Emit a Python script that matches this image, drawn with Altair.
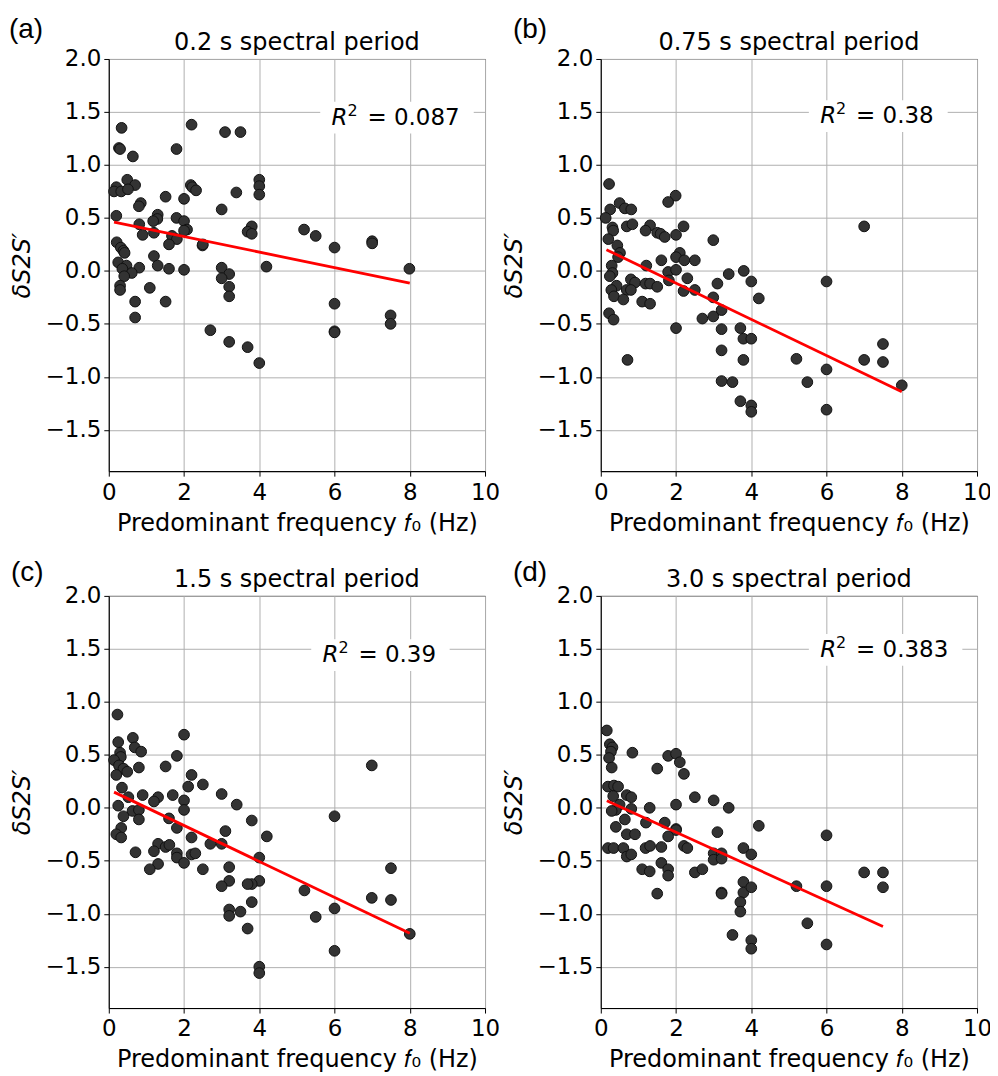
import altair as alt
import pandas as pd

# ---------------- data ----------------
a_f0 = [0.34, 2.20, 3.09, 3.50, 0.27, 0.30, 1.80, 0.64, 0.49, 0.70, 0.20, 0.14, 0.33, 0.51,
        4.00, 4.00, 4.00, 2.18, 2.22, 2.32, 3.39, 1.51, 2.00, 0.85, 0.80, 3.00, 0.20, 1.30,
        1.29, 1.18, 1.80, 2.00, 2.08, 2.00, 0.81, 1.20, 0.90, 5.19, 5.50, 3.80, 3.69, 3.80,
        1.68, 1.81, 1.60, 2.49, 2.50, 6.00, 7.00, 7.00, 0.21, 0.32, 0.39, 0.42, 1.20, 0.25,
        0.47, 0.36, 0.81, 1.30, 1.60, 2.00, 4.19, 3.00, 3.20, 3.00, 7.99, 0.61, 0.41, 0.30,
        0.30, 1.09, 3.20, 3.20, 0.70, 1.51, 0.70, 6.00, 7.49, 7.49, 6.00, 6.00, 2.70, 3.20,
        3.69, 4.00]
a_ds2s = [1.35, 1.38, 1.31, 1.31, 1.16, 1.15, 1.15, 1.08, 0.86, 0.81, 0.79, 0.75, 0.75, 0.77,
          0.86, 0.80, 0.72, 0.81, 0.79, 0.76, 0.74, 0.70, 0.68, 0.64, 0.61, 0.58, 0.52, 0.53,
          0.49, 0.47, 0.50, 0.47, 0.39, 0.38, 0.44, 0.36, 0.34, 0.39, 0.33, 0.42, 0.37, 0.35,
          0.33, 0.30, 0.25, 0.24, 0.25, 0.22, 0.28, 0.26, 0.27, 0.22, 0.19, 0.17, 0.14, 0.08,
          0.05, 0.02, 0.03, 0.05, 0.02, 0.01, 0.04, 0.03, -0.03, -0.07, 0.02, -0.02, -0.05, -0.14,
          -0.18, -0.16, -0.15, -0.24, -0.29, -0.29, -0.44, -0.31, -0.42, -0.50, -0.57, -0.58, -0.56, -0.67,
          -0.72, -0.87]

b_f0 = [0.22, 1.99, 1.79, 0.50, 0.64, 0.81, 0.25, 0.13, 0.31, 0.33, 0.69, 0.84, 1.31, 1.19,
        1.50, 1.59, 1.70, 2.00, 2.20, 7.00, 0.20, 2.99, 0.44, 0.51, 0.46, 2.10, 2.00, 2.22,
        1.61, 2.50, 1.21, 0.29, 0.31, 0.24, 1.79, 2.00, 1.81, 3.80, 3.40, 4.00, 6.00, 3.10,
        2.30, 0.80, 0.91, 1.19, 1.31, 1.50, 0.42, 0.28, 0.35, 0.69, 0.80, 2.20, 2.50, 0.60,
        2.99, 4.20, 1.10, 1.31, 3.21, 0.22, 0.34, 2.70, 2.99, 2.00, 3.21, 3.71, 3.79, 4.00,
        3.21, 0.71, 3.79, 5.20, 7.00, 7.50, 7.50, 6.00, 8.00, 3.21, 3.50, 5.49, 3.71, 4.00,
        4.00, 6.00]
b_ds2s = [0.82, 0.71, 0.65, 0.64, 0.59, 0.58, 0.58, 0.50, 0.41, 0.38, 0.42, 0.44, 0.43, 0.38,
          0.36, 0.35, 0.32, 0.34, 0.42, 0.42, 0.30, 0.29, 0.24, 0.17, 0.13, 0.17, 0.13, 0.10,
          0.10, 0.10, 0.05, 0.05, -0.02, -0.05, -0.01, 0.01, -0.09, 0.00, -0.03, -0.10, -0.10, -0.12,
          -0.07, -0.08, -0.11, -0.12, -0.12, -0.15, -0.14, -0.18, -0.24, -0.18, -0.18, -0.19, -0.18, -0.27,
          -0.25, -0.26, -0.29, -0.31, -0.37, -0.40, -0.46, -0.45, -0.43, -0.54, -0.55, -0.54, -0.64, -0.64,
          -0.75, -0.84, -0.84, -0.83, -0.84, -0.69, -0.86, -0.93, -1.08, -1.04, -1.05, -1.05, -1.23, -1.27,
          -1.33, -1.31]

c_f0 = [0.23, 2.00, 0.25, 0.64, 0.69, 0.86, 0.30, 0.32, 1.81, 0.14, 0.27, 0.39, 0.49, 0.80,
        1.51, 0.20, 2.20, 2.50, 2.11, 0.35, 6.99, 0.90, 1.31, 1.20, 1.70, 2.00, 2.00, 3.00,
        3.40, 0.52, 0.25, 0.63, 0.80, 0.39, 0.80, 1.60, 6.00, 3.80, 1.81, 0.33, 0.20, 0.33,
        3.10, 2.20, 4.20, 1.31, 1.51, 1.61, 2.70, 3.00, 0.71, 1.20, 1.81, 1.81, 2.20, 2.30,
        2.00, 1.31, 1.09, 2.50, 4.00, 3.20, 4.00, 3.80, 3.69, 3.20, 3.00, 5.20, 7.50, 6.99,
        7.50, 3.80, 6.00, 3.20, 3.20, 3.50, 5.50, 3.69, 8.00, 6.00, 4.00, 4.00]
c_ds2s = [0.88, 0.69, 0.62, 0.66, 0.57, 0.53, 0.52, 0.48, 0.49, 0.45, 0.40, 0.37, 0.34, 0.38,
          0.39, 0.31, 0.31, 0.22, 0.20, 0.19, 0.40, 0.12, 0.10, 0.06, 0.12, 0.07, -0.02, 0.13,
          0.03, 0.10, 0.02, -0.03, -0.02, -0.08, -0.11, -0.10, -0.08, -0.12, -0.19, -0.19, -0.25, -0.28,
          -0.22, -0.28, -0.27, -0.34, -0.37, -0.35, -0.34, -0.34, -0.42, -0.41, -0.43, -0.47, -0.44, -0.43,
          -0.52, -0.53, -0.58, -0.58, -0.47, -0.56, -0.69, -0.72, -0.72, -0.69, -0.74, -0.78, -0.57, -0.85,
          -0.87, -0.89, -0.95, -0.96, -1.02, -0.98, -1.03, -1.14, -1.19, -1.35, -1.50, -1.56]

d_f0 = [0.16, 0.24, 0.31, 0.27, 0.22, 0.29, 0.84, 1.79, 2.00, 2.10, 1.50, 2.21, 0.19, 0.35,
        0.46, 0.33, 0.69, 0.81, 2.50, 3.00, 3.40, 2.00, 0.50, 0.40, 0.29, 0.81, 1.30, 0.64,
        1.20, 1.70, 2.00, 2.00, 0.40, 4.20, 0.69, 0.91, 1.79, 3.10, 6.00, 0.19, 0.34, 0.60,
        1.19, 1.31, 1.61, 2.21, 2.30, 0.69, 0.81, 3.00, 3.00, 3.21, 3.21, 3.79, 4.00, 1.61,
        1.10, 1.30, 1.79, 1.79, 2.50, 2.70, 3.79, 3.79, 4.00, 5.20, 6.00, 7.00, 7.50, 7.50,
        1.50, 3.21, 3.21, 3.71, 3.71, 5.49, 3.50, 4.00, 4.00, 6.00]
d_ds2s = [0.73, 0.60, 0.57, 0.53, 0.47, 0.38, 0.52, 0.49, 0.51, 0.43, 0.37, 0.32, 0.20, 0.21,
          0.20, 0.11, 0.12, 0.10, 0.10, 0.07, 0.00, 0.03, 0.03, -0.02, -0.03, -0.01, 0.00, -0.11,
          -0.14, -0.14, -0.20, -0.21, -0.18, -0.17, -0.25, -0.25, -0.27, -0.23, -0.26, -0.38, -0.38, -0.38,
          -0.38, -0.36, -0.37, -0.36, -0.38, -0.46, -0.44, -0.43, -0.49, -0.43, -0.48, -0.38, -0.44, -0.52,
          -0.58, -0.60, -0.58, -0.64, -0.61, -0.58, -0.70, -0.80, -0.75, -0.74, -0.74, -0.61, -0.61, -0.75,
          -0.81, -0.80, -0.81, -0.89, -0.98, -1.09, -1.20, -1.25, -1.33, -1.29]

# fitted regression line end points
fit_f0 = {"a": [0.14, 8.0], "b": [0.15, 8.0], "c": [0.14, 8.0], "d": [0.16, 7.5]}
fit_ds2s = {"a": [0.46, -0.116], "b": [0.20, -1.14], "c": [0.148, -1.185], "d": [0.066, -1.12]}

panel_letters = ["(a)", "(b)", "(c)", "(d)"]
panel_titles = ["0.2 s spectral period", "0.75 s spectral period",
                "1.5 s spectral period", "3.0 s spectral period"]
r2_values = ["0.087", "0.38", "0.39", "0.383"]
r2_f0 = [5.92, 5.83, 5.68, 5.83]
r2_ds2s = [1.446, 1.46, 1.44, 1.49]
r2_box_end = [9.70, 9.22, 9.06, 9.61]

x_ticks = [0, 2, 4, 6, 8, 10]
y_ticks = [-1.5, -1.0, -0.5, 0.0, 0.5, 1.0, 1.5, 2.0]

# ---------------- styling ----------------
FONT = "DejaVu Sans"
X_TITLE = "Predominant frequency 𝑓₀ (Hz)"
Y_TITLE = "δS2S′"
W, H = 377, 413

xscale = alt.Scale(domain=[0, 10], nice=False, zero=False)
yscale = alt.Scale(domain=[-1.89, 2.0], nice=False, zero=False)

xaxis = alt.Axis(values=x_ticks, format="d", labelFont=FONT, labelFontSize=23,
                 titleFont=FONT, titleFontSize=24, titleFontWeight="normal",
                 tickSize=5, labelPadding=5, titlePadding=7, labelFlush=False,
                 labelOverlap=False, gridColor="#b0b0b0", gridWidth=1,
                 domainColor="black", tickColor="black", labelColor="black",
                 titleColor="black")
yaxis = alt.Axis(values=y_ticks, format=".1f", labelFont=FONT, labelFontSize=23,
                 titleFont=FONT, titleFontSize=24, titleFontWeight="normal",
                 titleFontStyle="italic", tickSize=5, labelPadding=3, titlePadding=11,
                 labelOverlap=False, gridColor="#b0b0b0", gridWidth=1,
                 domainColor="black", tickColor="black", labelColor="black",
                 titleColor="black")

label_pos = [(-100, -21), (-88, -21), (-98, -15), (-88, -15)]


def X(field):
    return alt.X(field, type="quantitative", scale=xscale, axis=xaxis, title=X_TITLE)


def Y(field):
    return alt.Y(field, type="quantitative", scale=yscale, axis=yaxis, title=Y_TITLE)


def panel(i, key, f0, ds):
    pts = pd.DataFrame({"f0": f0, "ds": ds})
    fit = pd.DataFrame({"f0": fit_f0[key], "ds": fit_ds2s[key]})
    ann = pd.DataFrame({"f0": [r2_f0[i]], "ds": [r2_ds2s[i]],
                        "bx0": [r2_f0[i] - 0.3], "bx1": [r2_box_end[i]],
                        "by0": [r2_ds2s[i] - 0.15], "by1": [r2_ds2s[i] + 0.15],
                        "r": ["R"], "sup": ["2"], "rest": ["= " + r2_values[i]]})
    lab = pd.DataFrame({"lab": [panel_letters[i]], "title": [panel_titles[i]]})

    points = alt.Chart(pts).mark_circle(size=115, fill="#333333", stroke="#111111",
                                        strokeWidth=1, opacity=1).encode(x=X("f0"), y=Y("ds"))
    line = alt.Chart(fit).mark_line(color="#ff0000", strokeWidth=2.8).encode(x=X("f0"), y=Y("ds"))
    box = alt.Chart(ann).mark_rect(fill="white").encode(
        x=X("bx0"), x2="bx1", y=Y("by0"), y2="by1")
    r_text = alt.Chart(ann).mark_text(align="left", baseline="middle", font=FONT,
                                      fontSize=23, fontStyle="italic", color="black").encode(
        x=X("f0"), y=Y("ds"), text="r:N")
    sup_text = alt.Chart(ann).mark_text(align="left", baseline="middle", font=FONT,
                                        fontSize=16, dx=16, dy=-7, color="black").encode(
        x=X("f0"), y=Y("ds"), text="sup:N")
    rest_text = alt.Chart(ann).mark_text(align="left", baseline="middle", font=FONT,
                                         fontSize=23, dx=36, color="black").encode(
        x=X("f0"), y=Y("ds"), text="rest:N")
    lx, ly = label_pos[i]
    letter = alt.Chart(lab).mark_text(align="left", baseline="alphabetic",
                                      font="Liberation Sans", fontSize=28,
                                      color="black").encode(
        x=alt.value(lx), y=alt.value(ly), text="lab:N")
    title = alt.Chart(lab).mark_text(align="center", baseline="alphabetic",
                                     font=FONT, fontSize=24, color="black").encode(
        x=alt.value(W / 2), y=alt.value(-9), text="title:N")

    return alt.layer(box, points, line, r_text, sup_text, rest_text, letter, title).properties(
        width=W, height=H)


pa = panel(0, "a", a_f0, a_ds2s)
pb = panel(1, "b", b_f0, b_ds2s)
pc = panel(2, "c", c_f0, c_ds2s)
pd_ = panel(3, "d", d_f0, d_ds2s)

chart = alt.concat(pa, pb, pc, pd_, columns=2,
                   spacing={"row": 125, "column": 116}, bounds="flush").properties(
    padding={"left": 0, "top": 6, "right": -3, "bottom": 0},
    background="white"
).configure_view(stroke="black", strokeWidth=1).configure_axis(grid=True)

chart.save("out.html", embed_options={"renderer": "svg", "actions": False})
